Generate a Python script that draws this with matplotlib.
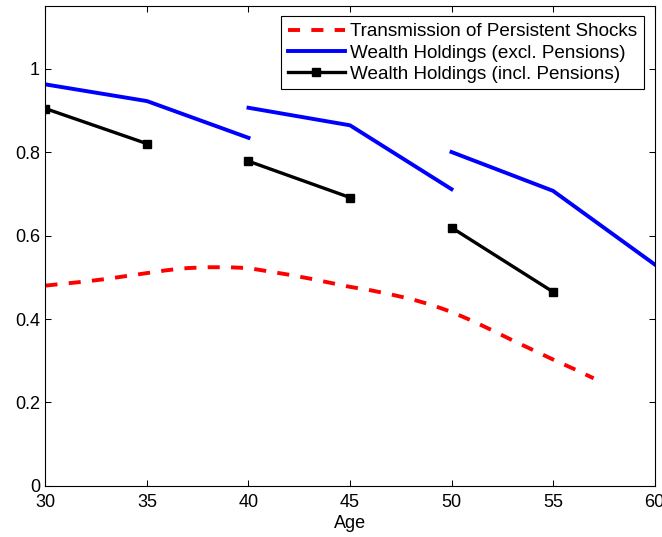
import matplotlib
matplotlib.use("Agg")
import matplotlib.pyplot as plt

# Transmission of persistent shocks (yearly)
ages_shock = [30, 31, 32, 33, 34, 35, 36, 37, 38, 39, 40, 41, 42, 43,
              44, 45, 46, 47, 48, 49, 50, 51, 52, 53, 54, 55, 56, 57]
transmission = [0.480, 0.485, 0.490, 0.496, 0.503, 0.510, 0.517, 0.522,
                0.524, 0.524, 0.522, 0.514, 0.506, 0.497, 0.487, 0.477,
                0.469, 0.459, 0.448, 0.434, 0.417, 0.396, 0.373, 0.349,
                0.326, 0.303, 0.281, 0.258]

# Wealth holdings excl. pensions, one segment per cohort
ages_excl = [[30, 35, 40], [40, 45, 50], [50, 55, 60]]
wealth_excl = [[0.962, 0.922, 0.834], [0.906, 0.864, 0.711], [0.800, 0.707, 0.531]]

# Wealth holdings incl. pensions
ages_incl = [[30, 35], [40, 45], [50, 55]]
wealth_incl = [[0.904, 0.820], [0.778, 0.691], [0.619, 0.465]]

x_ticks = [30, 35, 40, 45, 50, 55, 60]
y_ticks = [0, 0.2, 0.4, 0.6, 0.8, 1]

plt.rcParams['font.family'] = ['Liberation Sans', 'DejaVu Sans']
plt.rcParams['font.size'] = 13

fig = plt.figure(figsize=(6.62, 5.37), dpi=100)
ax = fig.add_axes([0.0687, 0.095, 0.92, 0.894])

ax.plot(ages_shock, transmission, color='#ff0000', lw=2.8,
        dashes=(3.1, 2.9), label='Transmission of Persistent Shocks')

for i, (a, w) in enumerate(zip(ages_excl, wealth_excl)):
    ax.plot(a, w, color='#0000ff', lw=2.8,
            label='Wealth Holdings (excl. Pensions)' if i == 0 else None)

for i, (a, w) in enumerate(zip(ages_incl, wealth_incl)):
    ax.plot(a, w, color='black', lw=2.4, marker='s', markersize=5.5,
            label='Wealth Holdings (incl. Pensions)' if i == 0 else None)

ax.set_xlim(30, 60)
ax.set_ylim(0, 1.15)
ax.set_xticks(x_ticks)
ax.set_yticks(y_ticks)
ax.set_yticklabels(['0', '0.2', '0.4', '0.6', '0.8', '1'])
ax.tick_params(direction='in', length=4.5, width=0.75, top=True, right=True,
               labelsize=13)
ax.tick_params(axis='x', pad=6)
ax.tick_params(axis='y', pad=4)
for s in ax.spines.values():
    s.set_linewidth(0.8)
ax.set_xlabel('Age', fontsize=13, labelpad=3)

leg = ax.legend(loc='upper right', fancybox=False, framealpha=1,
                edgecolor='black', handlelength=3.0, handletextpad=0.3,
                labelspacing=0.22, borderpad=0.35, borderaxespad=0.55,
                fontsize=13.6)
leg.get_frame().set_linewidth(0.8)

fig.savefig('out.png', dpi=100)
